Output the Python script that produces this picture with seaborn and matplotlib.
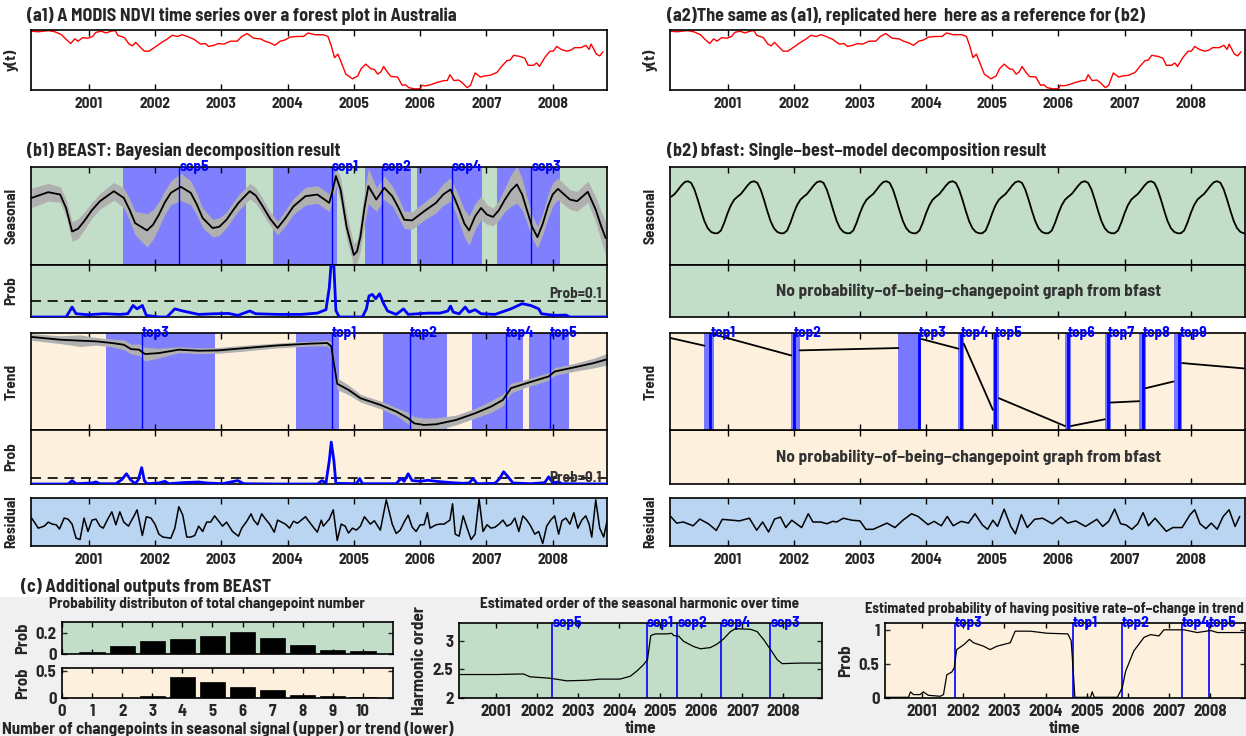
import numpy as np
import matplotlib
matplotlib.use("Agg")
import matplotlib.pyplot as plt
from matplotlib.patches import Rectangle
import seaborn as sns

sns.set_theme(style="ticks")
plt.rcParams["font.family"] = ["Liberation Sans Narrow", "Barlow Semi Condensed", "Liberation Sans", "DejaVu Sans"]
plt.rcParams["font.weight"] = "bold"
plt.rcParams["axes.labelweight"] = "bold"
plt.rcParams["text.color"] = "#262626"
plt.rcParams["axes.labelcolor"] = "#262626"
plt.rcParams["xtick.color"] = "black"
plt.rcParams["xtick.labelcolor"] = "#262626"
plt.rcParams["ytick.labelcolor"] = "#262626"

# ---------------- data ----------------
years = [2001, 2002, 2003, 2004, 2005, 2006, 2007, 2008]

# (a) NDVI, scaled 0 (min) .. 1 (max)
ndvi_t = [2000.13, 2000.24, 2000.39, 2000.49, 2000.59, 2000.66, 2000.73, 2000.79, 2000.84, 2000.91,
          2000.99, 2001.06, 2001.11, 2001.19, 2001.26, 2001.34, 2001.40, 2001.44, 2001.54, 2001.61,
          2001.66, 2001.71, 2001.76, 2001.84, 2001.91, 2001.99, 2002.09, 2002.19, 2002.26, 2002.34,
          2002.41, 2002.49, 2002.59, 2002.69, 2002.76, 2002.81, 2002.89, 2002.96, 2003.04, 2003.14,
          2003.24, 2003.31, 2003.39, 2003.49, 2003.59, 2003.66, 2003.74, 2003.81, 2003.89, 2003.96,
          2004.04, 2004.14, 2004.24, 2004.31,
          2004.41, 2004.54, 2004.61, 2004.66, 2004.71, 2004.76, 2004.81, 2004.88, 2004.98, 2005.06,
          2005.11, 2005.18, 2005.26, 2005.31, 2005.36, 2005.41, 2005.45, 2005.51, 2005.56, 2005.66,
          2005.73, 2005.78, 2005.83, 2005.91, 2006.00, 2006.03, 2006.08, 2006.16, 2006.26, 2006.36,
          2006.41, 2006.45, 2006.51, 2006.58, 2006.63, 2006.71, 2006.76, 2006.83, 2006.91, 2006.98,
          2007.06, 2007.16, 2007.23, 2007.31, 2007.36, 2007.41, 2007.51, 2007.58, 2007.63, 2007.71,
          2007.76, 2007.80, 2007.88, 2007.96, 2008.01, 2008.06, 2008.13, 2008.21, 2008.28, 2008.33,
          2008.43, 2008.50, 2008.55, 2008.58, 2008.66, 2008.71, 2008.76]
ndvi_v = [0.99, 0.98, 1.0, 0.98, 0.93, 0.85, 0.78, 0.86, 0.82, 0.88,
          0.87, 0.9, 0.97, 0.99, 0.96, 0.99, 1.0, 0.92, 0.88, 0.77,
          0.74, 0.8, 0.74, 0.65, 0.65, 0.71, 0.79, 0.86, 0.92, 0.9,
          0.93, 0.9, 0.85, 0.77, 0.78, 0.73, 0.75, 0.78, 0.77, 0.82,
          0.82, 0.9, 0.95, 0.87, 0.86, 0.82, 0.79, 0.75, 0.82, 0.84,
          0.89, 0.9, 0.9, 0.96,
          0.93, 0.93, 0.9, 0.74, 0.54, 0.6, 0.46, 0.26, 0.18, 0.23,
          0.35, 0.43, 0.35, 0.34, 0.26, 0.3, 0.39, 0.29, 0.22, 0.21,
          0.07, 0.08, 0.03, 0.01, 0.01, 0.07, 0.06, 0.08, 0.12, 0.15,
          0.15, 0.25, 0.15, 0.16, 0.12, 0.03, 0.07, 0.28, 0.21, 0.23,
          0.24, 0.29, 0.39, 0.49, 0.5, 0.58, 0.56, 0.53, 0.41, 0.41,
          0.45, 0.39, 0.54, 0.65, 0.65, 0.73, 0.68, 0.65, 0.67, 0.71,
          0.71, 0.75, 0.68, 0.77, 0.6, 0.57, 0.64]

# (b1) BEAST seasonal: mean and half width of the credible band (panel units)
seas_t = [2000.14, 2000.39, 2000.57, 2000.66, 2000.75, 2000.84, 2000.93, 2001.05, 2001.17, 2001.38,
          2001.53, 2001.62, 2001.70, 2001.88, 2001.97, 2002.06, 2002.15, 2002.24, 2002.39, 2002.54,
          2002.63, 2002.72, 2002.87, 2002.97, 2003.08, 2003.17, 2003.26, 2003.43, 2003.52, 2003.61,
          2003.74, 2003.85, 2003.97, 2004.09, 2004.27, 2004.45, 2004.63, 2004.68, 2004.73, 2004.80,
          2004.89, 2005.00, 2005.05, 2005.10, 2005.16, 2005.22, 2005.34, 2005.46, 2005.58, 2005.67,
          2005.76, 2005.88, 2006.06, 2006.24, 2006.35, 2006.46, 2006.52, 2006.59, 2006.67, 2006.74,
          2006.83, 2006.92, 2007.01, 2007.10, 2007.19, 2007.28, 2007.37, 2007.46, 2007.54, 2007.61,
          2007.69, 2007.77, 2007.85, 2007.93, 2008.00, 2008.08, 2008.26, 2008.37, 2008.53, 2008.65,
          2008.73, 2008.80]
seas_v = [0.685, 0.743, 0.719, 0.58, 0.342, 0.37, 0.445, 0.56, 0.651, 0.753,
          0.685, 0.56, 0.428, 0.353, 0.41, 0.514, 0.64, 0.736, 0.798, 0.736,
          0.62, 0.479, 0.377, 0.39, 0.462, 0.55, 0.634, 0.753, 0.71, 0.616,
          0.47, 0.377, 0.48, 0.599, 0.702, 0.719, 0.634, 0.76, 0.908, 0.771,
          0.394, 0.103, 0.14, 0.291, 0.58, 0.805, 0.668, 0.788, 0.702, 0.59,
          0.462, 0.455, 0.548, 0.634, 0.72, 0.771, 0.68, 0.565, 0.42, 0.353,
          0.497, 0.582, 0.514, 0.490, 0.56, 0.668, 0.76, 0.822, 0.72, 0.565,
          0.39, 0.284, 0.42, 0.599, 0.72, 0.777, 0.668, 0.651, 0.747, 0.565,
          0.40, 0.274]
seas_hw = [0.1, 0.09, 0.08, 0.09, 0.1, 0.1, 0.09, 0.08, 0.08, 0.09,
           0.1, 0.11, 0.12, 0.17, 0.15, 0.13, 0.12, 0.12, 0.14, 0.12,
           0.11, 0.1, 0.09, 0.09, 0.08, 0.08, 0.08, 0.08, 0.08, 0.08,
           0.07, 0.07, 0.08, 0.08, 0.09, 0.09, 0.09, 0.1, 0.1, 0.12,
           0.13, 0.11, 0.12, 0.15, 0.17, 0.18, 0.12, 0.12, 0.1, 0.1,
           0.09, 0.09, 0.09, 0.1, 0.11, 0.12, 0.12, 0.13, 0.14, 0.15,
           0.13, 0.12, 0.1, 0.09, 0.1, 0.12, 0.16, 0.19, 0.16, 0.13,
           0.12, 0.11, 0.11, 0.12, 0.12, 0.11, 0.1, 0.1, 0.11, 0.13,
           0.15, 0.17]

# seasonal changepoint probability
pseas_t = [2000.14, 2000.66, 2000.75, 2000.81, 2000.99, 2001.23, 2001.47, 2001.59, 2001.67, 2001.73,
           2001.81, 2001.87, 2002.06, 2002.18, 2002.30, 2002.42, 2002.66, 2002.90, 2003.11, 2003.25,
           2003.43, 2003.52, 2003.85, 2004.21, 2004.45, 2004.58, 2004.63, 2004.66, 2004.70, 2004.73,
           2004.78, 2005.13, 2005.19, 2005.23, 2005.28, 2005.33, 2005.39, 2005.45, 2005.51, 2005.64,
           2005.75, 2005.82, 2006.12, 2006.30, 2006.42, 2006.46, 2006.50, 2006.59, 2006.68, 2006.74,
           2006.83, 2006.92, 2007.13, 2007.37, 2007.54, 2007.67, 2007.79, 2007.83, 2008.03, 2008.20,
           2008.26, 2008.83]
pseas_v = [0.0, 0.0, 0.061, 0.02, 0.014, 0.02, 0.016, 0.02, 0.071, 0.05,
           0.071, 0.01, 0.0, 0.0, 0.05, 0.037, 0.016, 0.02, 0.022, 0.01,
           0.037, 0.02, 0.016, 0.016, 0.024, 0.045, 0.18, 0.34, 0.31, 0.04,
           0.0, 0.0, 0.05, 0.13, 0.139, 0.112, 0.143, 0.082, 0.037, 0.016,
           0.05, 0.016, 0.024, 0.024, 0.037, 0.067, 0.03, 0.02, 0.061, 0.03,
           0.045, 0.02, 0.016, 0.05, 0.082, 0.071, 0.05, 0.02, 0.01, 0.012,
           0.0, 0.0]

scp_names = ["scp5", "scp1", "scp2", "scp4", "scp3"]
scp_years = [2002.37, 2004.67, 2005.42, 2006.48, 2007.68]
scp_lo = [2001.52, 2003.78, 2005.17, 2005.95, 2007.16]
scp_hi = [2003.38, 2004.75, 2005.86, 2006.94, 2008.11]

# BEAST trend
trend_t = [2000.14, 2000.57, 2000.87, 2001.11, 2001.35, 2001.53, 2001.64, 2001.76, 2001.85, 2002.06,
           2002.36, 2002.66, 2002.96, 2003.37, 2003.85, 2004.33, 2004.60, 2004.66, 2004.70, 2004.75,
           2004.92, 2005.10, 2005.40, 2005.64, 2005.82, 2005.91, 2006.06, 2006.24, 2006.54, 2006.83,
           2007.07, 2007.25, 2007.37, 2007.61, 2007.94, 2008.03, 2008.32, 2008.62, 2008.83]
trend_v = [0.959, 0.931, 0.921, 0.914, 0.897, 0.879, 0.834, 0.828, 0.783, 0.793,
           0.828, 0.817, 0.821, 0.845, 0.872, 0.890, 0.897, 0.862, 0.69, 0.476,
           0.414, 0.328, 0.259, 0.19, 0.121, 0.069, 0.052, 0.059, 0.103, 0.172,
           0.241, 0.31, 0.431, 0.483, 0.552, 0.603, 0.645, 0.69, 0.731]
trend_hw = [0.035, 0.04, 0.06, 0.04, 0.04, 0.05, 0.05, 0.06, 0.07, 0.05,
            0.03, 0.03, 0.03, 0.03, 0.025, 0.025, 0.03, 0.05, 0.07, 0.06,
            0.05, 0.04, 0.04, 0.04, 0.06, 0.07, 0.07, 0.065, 0.05, 0.05,
            0.06, 0.06, 0.05, 0.04, 0.04, 0.04, 0.04, 0.05, 0.06]

ptrend_t = [2000.14, 2000.69, 2000.75, 2000.81, 2001.05, 2001.11, 2001.17, 2001.41, 2001.50, 2001.57,
            2001.63, 2001.70, 2001.75, 2001.80, 2001.84, 2001.88, 2002.06, 2002.15, 2002.21, 2002.42,
            2002.66, 2002.78, 2003.02, 2003.25, 2003.34, 2003.85, 2004.45, 2004.52, 2004.58, 2004.63,
            2004.66, 2004.70, 2004.73, 2005.04, 2005.09, 2005.13, 2005.64, 2005.71, 2005.76, 2005.82,
            2005.88, 2006.00, 2006.12, 2006.24, 2006.47, 2006.65, 2006.74, 2006.80, 2006.86, 2007.13,
            2007.20, 2007.26, 2007.34, 2007.40, 2007.67, 2007.88, 2007.94, 2008.00, 2008.09, 2008.14,
            2008.83]
ptrend_v = [0.0, 0.0, 0.056, 0.005, 0.017, 0.033, 0.005, 0.005, 0.072, 0.167,
            0.072, 0.005, 0.072, 0.267, 0.056, 0.005, 0.017, 0.044, 0.005, 0.022,
            0.033, 0.017, 0.005, 0.056, 0.005, 0.0, 0.0, 0.056, 0.017, 0.378,
            0.683, 0.378, 0.011, 0.005, 0.089, 0.005, 0.005, 0.089, 0.044, 0.167,
            0.056, 0.044, 0.061, 0.044, 0.022, 0.011, 0.017, 0.089, 0.005, 0.011,
            0.089, 0.2, 0.1, 0.017, 0.005, 0.022, 0.117, 0.022, 0.033, 0.005,
            0.0]

tcp_names = ["tcp3", "tcp1", "tcp2", "tcp4", "tcp5"]
tcp_years = [2001.80, 2004.67, 2005.85, 2007.30, 2007.96]
tcp_lo = [2001.26, 2004.13, 2005.44, 2006.78, 2007.64]
tcp_hi = [2002.91, 2004.78, 2006.41, 2007.55, 2008.25]

# BEAST residual
res_t = [2000.14, 2000.24, 2000.33, 2000.39, 2000.45, 2000.51, 2000.56, 2000.63, 2000.69, 2000.75,
         2000.81, 2000.87, 2000.93, 2000.99, 2001.05, 2001.11, 2001.17, 2001.22, 2001.28, 2001.35,
         2001.41, 2001.47, 2001.53, 2001.60, 2001.69, 2001.73, 2001.81, 2001.87, 2001.94, 2002.00,
         2002.06, 2002.12, 2002.24, 2002.30, 2002.36, 2002.42, 2002.48, 2002.54, 2002.60, 2002.66,
         2002.72, 2002.78, 2002.84, 2002.90, 2003.02, 2003.08, 2003.17, 2003.26, 2003.31, 2003.39,
         2003.45, 2003.49, 2003.55, 2003.61, 2003.67, 2003.73, 2003.80, 2003.85, 2003.97, 2004.03,
         2004.09, 2004.15, 2004.27, 2004.39, 2004.45, 2004.51, 2004.54, 2004.63, 2004.69, 2004.75,
         2004.81, 2004.87, 2004.92, 2004.98, 2005.04, 2005.10, 2005.16, 2005.25, 2005.31, 2005.40,
         2005.49, 2005.58, 2005.64, 2005.70, 2005.76, 2005.82, 2005.88, 2005.94, 2006.00, 2006.06,
         2006.11, 2006.15, 2006.24, 2006.30, 2006.36, 2006.45, 2006.49, 2006.53, 2006.59, 2006.65,
         2006.71, 2006.77, 2006.83, 2006.89, 2006.95, 2007.01, 2007.07, 2007.13, 2007.19, 2007.25,
         2007.31, 2007.37, 2007.43, 2007.49, 2007.55, 2007.61, 2007.67, 2007.73, 2007.79, 2007.85,
         2007.91, 2007.97, 2008.03, 2008.09, 2008.14, 2008.20, 2008.26, 2008.32, 2008.38, 2008.44,
         2008.50, 2008.55, 2008.59, 2008.65, 2008.71, 2008.77, 2008.83]
res_v = [0.45, 0.0, 0.09, 0.27, 0.18, 0.15, -0.04, 0.45, 0.4, 0.18,
         -0.45, -0.51, 0.45, -0.15, 0.36, 0.4, 0.09, 0.0, 0.36, 0.73,
         0.15, 0.73, 0.27, 0.09, 0.58, 0.82, -0.33, 0.51, 0.45, 0.18,
         -0.27, -0.4, -0.45, 0.0, 0.96, 0.58, -0.4, -0.4, -0.33, 0.09,
         -0.15, 0.27, 0.27, 0.55, 0.09, 0.27, -0.15, -0.36, 0.0, 0.33,
         0.64, 0.36, 0.15, 0.64, 0.4, 0.18, -0.18, 0.36, 0.18, 0.0,
         0.31, 0.22, 0.51, 0.04, -0.18, 0.36, 0.09, 0.4, 0.82, -0.55,
         0.18, 0.09, -0.22, 0.0, -0.09, 0.09, 0.51, 0.18, 0.33, -0.09,
         1.27, 0.18, -0.24, -0.09, 0.27, 0.58, 0.05, -0.15, 0.15, 0.15,
         0.69, 0.0, 0.15, 0.18, 0.18, 0.36, 1.09, -0.27, -0.36, 0.55,
         0.0, -0.51, -0.27, 1.31, -0.15, 0.15, 0.0, 0.04, 0.18, 0.36,
         0.09, 0.18, 0.45, -0.15, 0.55, 0.36, 0.09, -0.27, -0.15, -0.69,
         0.09, 0.36, 0.55, -0.27, 0.33, 0.45, 0.18, 0.69, 0.0, 0.36,
         0.55, 0.18, -0.4, 1.27, 0.0, -0.4, 0.45]

# (b2) bfast: one seasonal cycle (fraction of year -> value), repeated every year
bf_cycle_frac = [0.0, 0.05, 0.10, 0.15, 0.20, 0.25, 0.30, 0.35, 0.40, 0.45,
                 0.50, 0.55, 0.60, 0.65, 0.70, 0.75, 0.80, 0.85, 0.90, 0.95]
bf_cycle_val = [0.528, 0.610, 0.666, 0.697, 0.724, 0.766, 0.810, 0.845, 0.855, 0.838,
                0.769, 0.666, 0.552, 0.448, 0.376, 0.338, 0.324, 0.324, 0.352, 0.431]

# bfast piecewise linear trend: (start year, start value, end year, end value)
bf_seg_t0 = [2000.14, 2000.79, 2002.09, 2003.93, 2004.57, 2005.10, 2006.19, 2006.79, 2007.32, 2007.87]
bf_seg_v0 = [0.948, 0.986, 0.821, 0.938, 0.890, 0.328, 0.041, 0.283, 0.431, 0.690]
bf_seg_t1 = [2000.65, 2001.96, 2003.58, 2004.49, 2005.01, 2006.10, 2006.70, 2007.22, 2007.74, 2008.80]
bf_seg_v1 = [0.869, 0.769, 0.845, 0.838, 0.207, 0.041, 0.110, 0.297, 0.500, 0.635]

bf_names = ["tcp1", "tcp2", "tcp3", "tcp4", "tcp5", "tcp6", "tcp7", "tcp8", "tcp9"]
bf_years = [2000.74, 2002.00, 2003.89, 2004.53, 2005.04, 2006.14, 2006.75, 2007.28, 2007.83]
bf_lo = [2000.65, 2001.96, 2003.58, 2004.49, 2005.01, 2006.10, 2006.70, 2007.22, 2007.74]
bf_hi = [2000.79, 2002.09, 2003.93, 2004.57, 2005.10, 2006.19, 2006.79, 2007.32, 2007.87]

bfres_t = [2000.14, 2000.23, 2000.33, 2000.48, 2000.58, 2000.71, 2000.83, 2000.92, 2001.18, 2001.33,
           2001.44, 2001.53, 2001.62, 2001.71, 2001.80, 2001.88, 2001.97, 2002.12, 2002.22, 2002.29,
           2002.41, 2002.50, 2002.59, 2002.65, 2002.75, 2002.88, 2003.00, 2003.09, 2003.20, 2003.41,
           2003.53, 2003.65, 2003.78, 2003.88, 2004.03, 2004.12, 2004.23, 2004.32, 2004.41, 2004.53,
           2004.64, 2004.74, 2004.85, 2004.93, 2005.01, 2005.08, 2005.18, 2005.28, 2005.35, 2005.44,
           2005.53, 2005.64, 2005.76, 2005.91, 2006.04, 2006.14, 2006.26, 2006.41, 2006.58, 2006.67,
           2006.76, 2006.85, 2006.94, 2007.02, 2007.11, 2007.20, 2007.28, 2007.36, 2007.46, 2007.63,
           2007.73, 2007.87, 2007.99, 2008.06, 2008.14, 2008.23, 2008.31, 2008.40, 2008.49, 2008.58,
           2008.67, 2008.74]
bfres_v = [0.25, -0.05, 0.0, -0.17, 0.13, -0.08, -0.38, 0.12, 0.05, 0.17,
           -0.37, 0.0, -0.45, 0.13, 0.22, -0.25, 0.08, -0.25, 0.37, 0.0,
           0.0, -0.08, 0.03, 0.0, 0.17, 0.08, 0.05, -0.33, -0.33, -0.05,
           -0.25, 0.08, 0.37, 0.25, -0.12, 0.03, -0.17, 0.25, -0.17, 0.03,
           -0.05, 0.37, -0.13, -0.33, 0.08, -0.2, 0.58, -0.2, -0.53, 0.33,
           -0.25, 0.12, 0.17, -0.08, 0.22, -0.05, 0.05, -0.2, 0.12, -0.2,
           0.03, 0.58, -0.08, -0.13, -0.33, -0.08, 0.42, -0.17, 0.17, -0.42,
           -0.25, -0.25, 0.33, 0.55, -0.08, -0.3, -0.05, -0.33, 0.25, 0.55,
           -0.2, 0.25]

# (c) changepoint-number distributions
n_cp = [1, 2, 3, 4, 5, 6, 7, 8, 9, 10]
p_ncp_seas = [0.016, 0.079, 0.125, 0.144, 0.170, 0.207, 0.154, 0.085, 0.039, 0.026]
p_ncp_trend = [0.0, 0.006, 0.044, 0.381, 0.288, 0.200, 0.138, 0.063, 0.031, 0.019]

order_t = [2000.10, 2001.02, 2001.67, 2001.83, 2002.24, 2002.37, 2002.72, 2003.21, 2003.54, 2004.02,
           2004.27, 2004.43, 2004.59, 2004.69, 2004.77, 2004.88, 2005.16, 2005.28, 2005.33, 2005.45,
           2005.57, 2005.81, 2005.98, 2006.22, 2006.38, 2006.54, 2006.71, 2006.83, 2007.20, 2007.36,
           2007.52, 2007.72, 2007.85, 2007.97, 2008.41, 2008.94]
order_v = [2.41, 2.41, 2.42, 2.37, 2.35, 2.34, 2.30, 2.31, 2.33, 2.33,
           2.38, 2.47, 2.58, 2.67, 3.09, 3.12, 3.12, 3.13, 3.09, 3.08,
           2.99, 2.90, 2.86, 2.88, 2.94, 3.03, 3.16, 3.21, 3.20, 3.16,
           3.02, 2.81, 2.67, 2.60, 2.61, 2.61]

pos_t = [2000.10, 2000.67, 2000.72, 2000.79, 2000.95, 2001.03, 2001.15, 2001.44, 2001.52, 2001.60,
         2001.72, 2001.78, 2001.84, 2002.01, 2002.15, 2002.25, 2002.49, 2002.65, 2002.82, 2003.14,
         2003.26, 2003.63, 2004.03, 2004.54, 2004.62, 2004.67, 2004.71, 2005.09, 2005.13, 2005.18,
         2005.74, 2005.86, 2005.94, 2006.14, 2006.39, 2006.55, 2006.75, 2006.87, 2007.36, 2007.68,
         2008.01, 2008.17, 2008.90]
pos_v = [0.01, 0.01, 0.09, 0.05, 0.05, 0.09, 0.04, 0.025, 0.05, 0.34,
         0.38, 0.44, 0.71, 0.78, 0.86, 0.81, 0.76, 0.71, 0.76, 0.81,
         0.98, 0.98, 0.95, 0.94, 0.84, 0.39, 0.01, 0.01, 0.09, 0.01,
         0.01, 0.15, 0.39, 0.69, 0.89, 0.93, 0.91, 1.0, 1.0, 0.96,
         0.99, 0.96, 0.96]

# ---------------- styling ----------------
GREEN = "#c2dec8"
BEIGE = "#fdf1de"
LBLUE = "#b9d5f2"
CPBAND = "#8080ff"
CI = "#b0b0b0"

W, H = 1246, 736
fig = plt.figure(figsize=(W / 100, H / 100), dpi=100)
fig.patches.append(Rectangle((0, 0), 1, (H - 597) / H, transform=fig.transFigure,
                             facecolor="#f0f0f0", edgecolor="none", zorder=-10))


def add_ax(x0, y0, x1, y1):
    return fig.add_axes([x0 / W, 1 - y1 / H, (x1 - x0) / W, (y1 - y0) / H])


def frame(ax):
    for s in ax.spines.values():
        s.set_linewidth(1.2)
        s.set_color("black")


def style(ax, xlim, face="white", labels=False, ylabel=None, pad=9):
    ax.set_xlim(xlim)
    ax.set_facecolor(face)
    ax.set_xticks(years)
    ax.set_xticklabels([str(y) for y in years] if labels else [])
    ax.tick_params(axis="x", direction="in", top=True, bottom=True, length=4, width=1,
                   labelsize=11, pad=5)
    ax.set_yticks([])
    frame(ax)
    if ylabel:
        ax.set_ylabel(ylabel, fontsize=11, labelpad=pad)


def line(ax, x, y, **kw):
    n = min(len(x), len(y))
    sns.lineplot(x=list(x[:n]), y=list(y[:n]), ax=ax, estimator=None, sort=False,
                 legend=False, **kw)
    ax.set_xlabel("")
    ax.set_ylabel("")


def cp_marks(ax, names, pos, lo=None, hi=None, lw=1.0, band=CPBAND, fs=11):
    for i, (nm, p) in enumerate(zip(names, pos)):
        if lo is not None:
            ax.axvspan(lo[i], hi[i], color=band, lw=0, zorder=0.5)
        ax.axvline(p, color="#0000ff", lw=lw, zorder=2.5)
        ax.text(p, 1.0, nm, transform=ax.get_xaxis_transform(), color="#0000ff",
                fontsize=fs, fontweight="bold", ha="left", va="center", zorder=5, clip_on=False)


XL = (2000.13, 2008.82)
LX0, LX1 = 31, 607
RX0, RX1 = 670, 1245

fs_title = 13
fig.text(27 / W, 1 - 16 / H, "(a1) A MODIS NDVI time series over a forest plot in Australia",
         fontsize=fs_title, fontweight="bold", va="center")
fig.text(667 / W, 1 - 16 / H, "(a2)The same as (a1), replicated here  here as a reference for (b2)",
         fontsize=fs_title, fontweight="bold", va="center")
fig.text(27 / W, 1 - 151 / H, "(b1) BEAST: Bayesian decomposition result",
         fontsize=fs_title, fontweight="bold", va="center")
fig.text(667 / W, 1 - 151 / H, "(b2) bfast: Single\u2212best\u2212model decomposition result",
         fontsize=fs_title, fontweight="bold", va="center")
fig.text(21 / W, 1 - 587 / H, "(c) Additional outputs from BEAST",
         fontsize=fs_title, fontweight="bold", va="center")

# ---- (a1) / (a2)
for x0, x1 in [(LX0, LX1), (RX0, RX1)]:
    ax = add_ax(x0, 30, x1, 90)
    line(ax, ndvi_t, ndvi_v, color="red", linewidth=1.0)
    ax.set_ylim(-0.01, 1.01)
    style(ax, XL, labels=True, ylabel="y(t)")

# ---- (b1) BEAST
ax = add_ax(LX0, 167, LX1, 265)
cp_marks(ax, scp_names, scp_years, scp_lo, scp_hi)
n = min(len(seas_t), len(seas_v), len(seas_hw))
sv, sh = np.array(seas_v[:n]), np.array(seas_hw[:n])
ax.fill_between(seas_t[:n], sv - sh, sv + sh, color=CI, lw=0, zorder=1)
line(ax, seas_t, seas_v, color="black", linewidth=1.3, zorder=3)
ax.set_ylim(0, 1)
style(ax, XL, face=GREEN, ylabel="Seasonal")

ax = add_ax(LX0, 265, LX1, 317)
line(ax, pseas_t, pseas_v, color="#0000ff", linewidth=2.0, zorder=3)
ax.axhline(0.1, color="black", lw=1.2, ls=(0, (6, 4)), zorder=2)
ax.text(0.99, 0.1, "Prob=0.1", transform=ax.get_yaxis_transform(), ha="right", va="bottom",
        fontsize=11, fontweight="bold", color="#333333")
ax.set_ylim(0, 0.32)
style(ax, XL, face=GREEN, ylabel="Prob")

ax = add_ax(LX0, 333, LX1, 430)
cp_marks(ax, tcp_names, tcp_years, tcp_lo, tcp_hi)
tv, th = np.array(trend_v), np.array(trend_hw)
ax.fill_between(trend_t, tv - th, tv + th, color=CI, lw=0, zorder=1)
line(ax, trend_t, trend_v, color="black", linewidth=1.3, zorder=3)
ax.set_ylim(0, 1)
style(ax, XL, face=BEIGE, ylabel="Trend")

ax = add_ax(LX0, 430, LX1, 484)
line(ax, ptrend_t, ptrend_v, color="#0000ff", linewidth=2.0, zorder=3)
ax.axhline(0.1, color="black", lw=1.2, ls=(0, (6, 4)), zorder=2)
ax.text(0.99, 0.1, "Prob=0.1", transform=ax.get_yaxis_transform(), ha="right", va="center",
        fontsize=11, fontweight="bold", color="#333333")
ax.set_ylim(0, 0.88)
style(ax, XL, face=BEIGE, ylabel="Prob")

ax = add_ax(LX0, 498, LX1, 546)
line(ax, res_t, res_v, color="black", linewidth=1.1)
ax.set_ylim(-0.8, 1.35)
style(ax, XL, face=LBLUE, labels=True, ylabel="Residual")

# ---- (b2) bfast
ax = add_ax(RX0, 167, RX1, 265)
bf_t, bf_v = [], []
for yr in range(2000, 2009):
    for f, v in zip(bf_cycle_frac, bf_cycle_val):
        if XL[0] <= yr + f <= XL[1] + 0.05:
            bf_t.append(yr + f)
            bf_v.append(v)
line(ax, bf_t, bf_v, color="black", linewidth=1.3)
ax.set_ylim(0, 1)
style(ax, XL, face=GREEN, ylabel="Seasonal")

nograph = "No probability\u2212of\u2212being\u2212changepoint graph from bfast"
for y0, y1, face in [(265, 317, GREEN), (430, 484, BEIGE)]:
    ax = add_ax(RX0, y0, RX1, y1)
    ax.text(0.52, 0.5, nograph, transform=ax.transAxes, ha="center", va="center",
            fontsize=12.5, fontweight="bold", color="#333333")
    style(ax, XL, face=face)

ax = add_ax(RX0, 333, RX1, 430)
cp_marks(ax, bf_names, bf_years, bf_lo, bf_hi, lw=2.0, band="#7777ff")
for t0, v0, t1, v1 in zip(bf_seg_t0, bf_seg_v0, bf_seg_t1, bf_seg_v1):
    ax.plot([t0, t1], [v0, v1], color="black", lw=1.3, zorder=3)
ax.set_ylim(0, 1)
style(ax, XL, face=BEIGE, ylabel="Trend")

ax = add_ax(RX0, 498, RX1, 546)
line(ax, bfres_t, bfres_v, color="black", linewidth=1.1)
ax.set_ylim(-1.08, 1.08)
style(ax, XL, face=LBLUE, labels=True, ylabel="Residual")

# ---- (c) extra outputs
fig.text(207 / W, 1 - 604 / H, "Probability distributon of total changepoint number",
         ha="center", va="center", fontsize=11, fontweight="bold")
fig.text(640 / W, 1 - 604 / H, "Estimated order of the seasonal harmonic over time",
         ha="center", va="center", fontsize=11, fontweight="bold")
fig.text(1054 / W, 1 - 609 / H, "Estimated probability of having positive rate\u2212of\u2212change in trend",
         ha="center", va="center", fontsize=10.5, fontweight="bold")

for (y0, y1, probs, face, ymax, yt) in [(622, 654, p_ncp_seas, GREEN, 0.305, [0, 0.2]),
                                          (668, 698, p_ncp_trend, BEIGE, 0.55, [0, 0.5])]:
    ax = add_ax(62, y0, 393, y1)
    sns.barplot(x=n_cp, y=probs, ax=ax, native_scale=True, width=0.84, color="black",
                saturation=1, edgecolor="black", linewidth=0.5)
    ax.set_facecolor(face)
    ax.set_xlim(0, 11)
    ax.set_ylim(0, ymax)
    ax.set_xticks(range(0, 11))
    ax.set_yticks(yt)
    ax.set_yticklabels(["0" if v == 0 else f"{v:g}" for v in yt])
    ax.tick_params(direction="in", top=True, right=True, length=3.5, width=1, labelsize=12, pad=4)
    if face == GREEN:
        ax.set_xticklabels([])
    ax.set_ylabel("Prob", fontsize=12, labelpad=4)
    frame(ax)
ax.set_xlabel("Number of changepoints in seasonal signal (upper) or trend (lower)",
              fontsize=12, labelpad=2)

ax = add_ax(459, 623, 822, 698)
for p, nm in zip(scp_years, scp_names):
    ax.axvline(p, color="#0000ff", lw=1.2, zorder=2)
    ax.text(p, 1.0, nm, transform=ax.get_xaxis_transform(), color="#0000ff", fontsize=11,
            fontweight="bold", ha="left", va="center", clip_on=False)
line(ax, order_t, order_v, color="black", linewidth=0.9, zorder=3)
ax.set_ylim(2, 3.31)
ax.set_xlim(2000.10, 2008.94)
ax.set_facecolor(GREEN)
ax.set_xticks(years)
ax.set_yticks([2, 2.5, 3])
ax.set_yticklabels(["2", "2.5", "3"])
ax.tick_params(direction="in", top=True, right=True, length=3.5, width=1, labelsize=12, pad=4)
ax.set_xlabel("time", fontsize=12.5, labelpad=2)
ax.set_ylabel("Harmonic order", fontsize=12.5, labelpad=4)
frame(ax)

ax = add_ax(885, 623, 1245, 698)
for p, nm in zip(tcp_years, tcp_names):
    ax.axvline(p, color="#0000ff", lw=1.2, zorder=2)
    ax.text(p, 1.0, nm, transform=ax.get_xaxis_transform(), color="#0000ff", fontsize=11,
            fontweight="bold", ha="left", va="center", clip_on=False)
line(ax, pos_t, pos_v, color="black", linewidth=0.9, zorder=3)
ax.set_ylim(0, 1.1)
ax.set_xlim(2000.10, 2008.84)
ax.set_facecolor(BEIGE)
ax.set_xticks(years)
ax.set_yticks([0, 0.5, 1])
ax.set_yticklabels(["0", "0.5", "1"])
ax.tick_params(direction="in", top=True, right=True, length=3.5, width=1, labelsize=12, pad=4)
ax.set_xlabel("time", fontsize=12.5, labelpad=2)
ax.set_ylabel("Prob", fontsize=12.5, labelpad=4)
frame(ax)

fig.savefig("out.png", dpi=100)
